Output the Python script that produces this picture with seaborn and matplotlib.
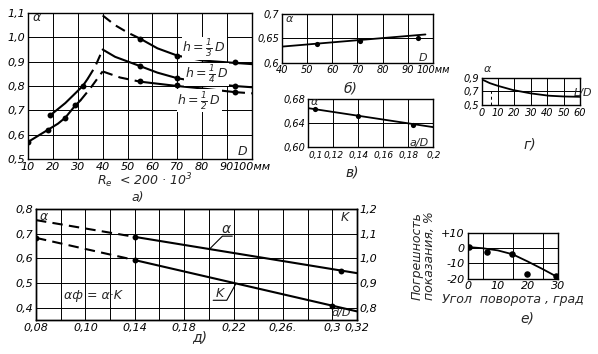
import matplotlib
matplotlib.use("Agg")
import matplotlib.pyplot as plt
import seaborn as sns

sns.set_style("white")
plt.rcParams['font.family'] = ['DejaVu Sans']
plt.rcParams['font.style'] = 'italic'
plt.rcParams['mathtext.default'] = 'it'

# ---- а) alpha vs D (Re < 200*10^3)
a_lo_D = [10, 18, 25, 29]                 # left, lower branch (measured)
a_lo_al = [0.57, 0.62, 0.67, 0.72]
a_lo_solid_D = [10, 14, 18, 22, 25, 29, 31]
a_lo_solid_al = [0.57, 0.595, 0.62, 0.645, 0.67, 0.72, 0.74]
a_lo_dash_D = [31, 35, 40]
a_lo_dash_al = [0.74, 0.79, 0.86]
a_hi_D = [19, 32]                         # left, upper branch
a_hi_al = [0.68, 0.80]
a_hi_solid_D = [19, 25, 32, 34]
a_hi_solid_al = [0.68, 0.73, 0.80, 0.83]
a_hi_dash_D = [34, 37, 40]
a_hi_dash_al = [0.83, 0.88, 0.95]

a_t_dash_D = [40, 45, 50, 55]             # h = 1/3 D
a_t_dash_al = [1.09, 1.05, 1.02, 0.995]
a_t_D = [55, 62, 70, 80, 93, 100]
a_t_al = [0.995, 0.955, 0.925, 0.905, 0.895, 0.89]
a_t_pts_D = [55, 70, 93]
a_t_pts_al = [0.995, 0.925, 0.897]

a_m_D = [40, 45, 55, 62, 70, 80, 93, 100]  # h = 1/4 D
a_m_al = [0.95, 0.92, 0.882, 0.855, 0.832, 0.815, 0.80, 0.795]
a_m_pts_D = [55, 70, 93]
a_m_pts_al = [0.882, 0.834, 0.80]

a_b_dash_D = [40, 47, 55]                 # h = 1/2 D
a_b_dash_al = [0.86, 0.835, 0.818]
a_b_D = [55, 70, 80, 93]
a_b_al = [0.818, 0.80, 0.79, 0.775]
a_b_end_D = [93, 100]
a_b_end_al = [0.775, 0.77]
a_b_pts_D = [55, 70, 93]
a_b_pts_al = [0.82, 0.803, 0.775]

a_xticks = [10, 20, 30, 40, 50, 60, 70, 80, 90, 100]
a_xlabels = ["10", "20", "30", "40", "50", "60", "70", "80", "90", "100мм"]
a_yticks = [0.5, 0.6, 0.7, 0.8, 0.9, 1.0, 1.1]
a_ylabels = ["0,5", "0,6", "0,7", "0,8", "0,9", "1,0", "1,1"]

# ---- б) alpha vs D
b_line_D = [40, 97]
b_line_al = [0.633, 0.658]
b_pts_D = [54, 71, 94]
b_pts_al = [0.639, 0.6455, 0.650]
b_xticks = [40, 50, 60, 70, 80, 90, 100]
b_xlabels = ["40", "50", "60", "70", "80", "90", "100мм"]
b_yticks = [0.6, 0.65, 0.7]
b_ylabels = ["0,6", "0,65", "0,7"]

# ---- в) alpha vs a/D
c_line_x = [0.1, 0.2]
c_line_al = [0.665, 0.633]
c_pts_x = [0.105, 0.14, 0.184]
c_pts_al = [0.663, 0.651, 0.637]
c_xticks = [0.1, 0.12, 0.14, 0.16, 0.18, 0.2]
c_xlabels = ["0,1", "0,12", "0,14", "0,16", "0,18", "0,2"]
c_yticks = [0.60, 0.64, 0.68]
c_ylabels = ["0,60", "0,64", "0,68"]

# ---- г) alpha vs L/D
g_x = [1, 5, 10, 19, 30, 41, 50, 60]
g_al = [0.865, 0.82, 0.78, 0.72, 0.67, 0.636, 0.625, 0.62]
g_xticks = [0, 10, 20, 30, 40, 50, 60]
g_yticks = [0.5, 0.7, 0.9]
g_ylabels = ["0,5", "0,7", "0,9"]

# ---- д) alpha and K vs d/D
d_al_dash_x = [0.06, 0.14]
d_al_dash = [0.755, 0.687]
d_al_x = [0.14, 0.32]
d_al = [0.687, 0.540]
d_al_pts_x = [0.14, 0.307]
d_al_pts = [0.687, 0.548]
d_k_dash_x = [0.06, 0.14]
d_k_dash = [1.083, 0.993]
d_k_x = [0.14, 0.32]
d_k = [0.993, 0.785]
d_k_pts_x = [0.06, 0.14, 0.30]
d_k_pts = [1.083, 0.993, 0.805]
d_xticks = [0.06, 0.10, 0.14, 0.18, 0.22, 0.26, 0.30, 0.32]
d_xlabels = ["0,08", "0,10", "0,14", "0,18", "0,22", "0,26.", "0,3", "0,32"]
d_yticks = [0.4, 0.5, 0.6, 0.7, 0.8]
d_ylabels = ["0,4", "0,5", "0,6", "0,7", "0,8"]
d_kticks = [0.8, 0.9, 1.0, 1.1, 1.2]
d_klabels = ["0,8", "0,9", "1,0", "1,1", "1,2"]

# ---- е) reading error vs rotation angle
e_pts_ang = [0.5, 6.5, 14.7, 19.8, 29.5]
e_pts_err = [0.7, -2.3, -4.0, -16.6, -18.5]
e_curve_ang = [0, 5, 10, 15, 20, 25, 30]
e_curve_err = [0.8, 0.0, -1.4, -4.0, -8.7, -13.7, -19.0]
e_xticks = [0, 10, 20, 30]
e_yticks = [-20, -10, 0, 10]
e_ylabels = ["-20", "-10", "0", "+10"]

LW = 1.5
GRID = dict(color='k', lw=0.7)
DASH = (0, (5, 3))


def frame(ax, fs):
    for s in ax.spines.values():
        s.set_linewidth(1.0)
        s.set_color('k')
    ax.tick_params(length=0, pad=2, labelsize=fs, colors='k')
    ax.set_xlabel("")
    ax.set_ylabel("")


def line(ax, x, y, dashed=False, lw=LW):
    sns.lineplot(x=x, y=y, ax=ax, color='k', lw=lw, sort=False, estimator=None,
                 linestyle=DASH if dashed else '-')


def dots(ax, x, y, s=18):
    sns.scatterplot(x=x, y=y, ax=ax, color='k', s=s, edgecolor='k', linewidth=0, zorder=5)


fig = plt.figure(figsize=(5.98, 3.54), dpi=100)

# а)
ax = fig.add_axes([0.0468, 0.5508, 0.3746, 0.4124])
line(ax, a_lo_solid_D, a_lo_solid_al)
line(ax, a_lo_dash_D, a_lo_dash_al, True)
line(ax, a_hi_solid_D, a_hi_solid_al)
line(ax, a_hi_dash_D, a_hi_dash_al, True)
line(ax, a_t_dash_D, a_t_dash_al, True)
line(ax, a_t_D, a_t_al)
line(ax, a_m_D, a_m_al)
line(ax, a_b_dash_D, a_b_dash_al, True)
line(ax, a_b_D, a_b_al)
line(ax, a_b_end_D, a_b_end_al, True)
for px, py in [(a_lo_D, a_lo_al), (a_hi_D, a_hi_al), (a_t_pts_D, a_t_pts_al),
               (a_m_pts_D, a_m_pts_al), (a_b_pts_D, a_b_pts_al)]:
    dots(ax, px, py)
ax.set_xlim(10, 100)
ax.set_ylim(0.5, 1.1)
ax.set_xticks(a_xticks, a_xlabels)
ax.set_yticks(a_yticks, a_ylabels)
ax.grid(True, **GRID)
frame(ax, 8)
ax.text(12, 1.08, "α", fontsize=9, va='center')
ax.text(96, 0.53, "D", fontsize=9, va='center', ha='center')
ax.text(72, 0.955, r"$h=\frac{1}{3}\,D$", fontsize=9, va='center', bbox=dict(fc='white', ec='none', pad=0.5))
ax.text(73, 0.848, r"$h=\frac{1}{4}\,D$", fontsize=9, va='center', bbox=dict(fc='white', ec='none', pad=0.5))
ax.text(70, 0.74, r"$h=\frac{1}{2}\,D$", fontsize=9, va='center', bbox=dict(fc='white', ec='none', pad=0.5))
ax.set_zorder(1)

# б)
ax = fig.add_axes([0.4711, 0.8229, 0.2530, 0.1375])
line(ax, b_line_D, b_line_al, lw=1.3)
dots(ax, b_pts_D, b_pts_al, 14)
ax.set_xlim(40, 100)
ax.set_ylim(0.6, 0.7)
ax.set_xticks(b_xticks, b_xlabels)
ax.set_yticks(b_yticks, b_ylabels)
ax.grid(True, **GRID)
frame(ax, 7)
ax.text(41.5, 0.69, "α", fontsize=8, va='center')
ax.text(96, 0.61, "D", fontsize=8, va='center', ha='center')

# в)
ax = fig.add_axes([0.5156, 0.5856, 0.2090, 0.1339])
line(ax, c_line_x, c_line_al, lw=1.3)
dots(ax, c_pts_x, c_pts_al, 14)
ax.set_xlim(0.1, 0.2)
ax.set_ylim(0.60, 0.68)
ax.set_xticks(c_xticks, c_xlabels)
ax.set_yticks(c_yticks, c_ylabels)
ax.grid(True, **GRID)
frame(ax, 7)
ax.tick_params(axis='x', pad=3, labelsize=6.5)
ax.get_xticklabels()[0].set_ha('left')
ax.text(0.102, 0.676, "α", fontsize=8, va='center')
ax.text(0.196, 0.607, "a/D", fontsize=8, va='center', ha='right')

# г)
ax = fig.add_axes([0.8055, 0.7034, 0.1644, 0.0771])
line(ax, g_x, g_al, lw=1.3)
ax.vlines(5.5, 0.5, 0.7, colors='k', lw=0.7, linestyles=(0, (3, 3)))
ax.set_xlim(0, 60)
ax.set_ylim(0.5, 0.9)
ax.set_xticks(g_xticks)
ax.set_yticks(g_yticks, g_ylabels)
ax.grid(True, **GRID)
frame(ax, 7)
ax.text(1, 0.96, "α", fontsize=8, va='bottom', clip_on=False)
ax.text(62, 0.68, "L/D", fontsize=8, va='center', ha='center', clip_on=False)

# д)
ax = fig.add_axes([0.0602, 0.0960, 0.5368, 0.3136])
line(ax, d_al_dash_x, d_al_dash, True)
line(ax, d_al_x, d_al)
dots(ax, d_al_pts_x, d_al_pts)
ax.set_xlim(0.06, 0.32)
ax.set_ylim(0.35, 0.8)
ax.set_xticks(d_xticks, d_xlabels)
ax.set_xticks([0.06 + 0.02 * i for i in range(14)], minor=True)
ax.set_yticks(d_yticks, d_ylabels)
ax.grid(True, which='both', axis='x', **GRID)
ax.grid(True, axis='y', **GRID)
frame(ax, 8)
ax.text(0.063, 0.77, "α", fontsize=9, va='center')
ax.text(0.083, 0.45, "αф = α·K", fontsize=9, va='center')
ax.plot([0.201, 0.211, 0.219], [0.640, 0.690, 0.690], color='k', lw=0.8)
ax.text(0.214, 0.692, "α", fontsize=10, ha='center', va='bottom')
ax.plot([0.222, 0.2145, 0.2035], [0.498, 0.430, 0.430], color='k', lw=0.8)
ax.text(0.209, 0.433, "K", fontsize=9, ha='center', va='bottom')
ax.text(0.307, 0.38, "d/D", fontsize=8, ha='center', va='center')
ax.text(0.31, 0.765, "K", fontsize=9, ha='center', va='center')
axk = ax.twinx()
line(axk, d_k_dash_x, d_k_dash, True)
line(axk, d_k_x, d_k)
dots(axk, d_k_pts_x, d_k_pts)
axk.set_ylim(0.75, 1.2)
axk.set_yticks(d_kticks, d_klabels)
frame(axk, 8)
axk.set_xlim(0.06, 0.32)

# е)
ax = fig.add_axes([0.7821, 0.2127, 0.1505, 0.1291])
line(ax, e_curve_ang, e_curve_err, lw=1.3)
dots(ax, e_pts_ang, e_pts_err, 22)
ax.set_xlim(0, 30)
ax.set_ylim(-20, 10)
ax.set_xticks(e_xticks)
ax.set_yticks(e_yticks, e_ylabels)
ax.set_xticks([5, 15, 25], minor=True)
ax.grid(True, which='minor', axis='x', **GRID)
ax.grid(True, axis='y', **GRID)
frame(ax, 8)
ax.set_ylabel("Погрешность\nпоказания, %", fontsize=9, labelpad=4, linespacing=0.9)
ax.set_xlabel("Угол  поворота , град", fontsize=9, labelpad=1)

# captions
fig.text(145 / 598, 1 - 181 / 354, r"$R_e$  < 200 · 10$^3$", fontsize=9, ha='center', va='center')
fig.text(138 / 598, 1 - 198 / 354, "а)", fontsize=9, ha='center', va='center')
fig.text(350 / 598, 1 - 88 / 354, "б)", fontsize=10, ha='center', va='center')
fig.text(352 / 598, 1 - 173 / 354, "в)", fontsize=10, ha='center', va='center')
fig.text(530 / 598, 1 - 145 / 354, "г)", fontsize=10, ha='center', va='center')
fig.text(200 / 598, 1 - 337 / 354, "д)", fontsize=10, ha='center', va='center')
fig.text(527 / 598, 1 - 318 / 354, "е)", fontsize=10, ha='center', va='center')

fig.savefig("out.png", dpi=100, facecolor='white')
